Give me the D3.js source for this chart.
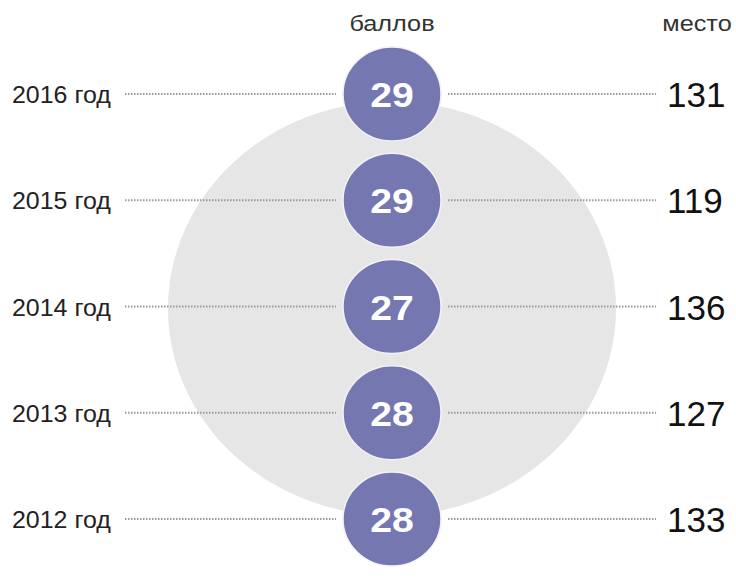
<!DOCTYPE html>
<html>
<head>
<meta charset="utf-8">
<script src="https://cdn.jsdelivr.net/npm/d3@7"></script>
<style>
  body { margin: 0; background: #fff; }
  svg text { font-family: "Liberation Sans", Arial, sans-serif; }
</style>
</head>
<body>
<div id="chart"></div>
<script>
// data (top row first)
var years = ["2016 год", "2015 год", "2014 год", "2013 год", "2012 год"];
var scores = [29, 29, 27, 28, 28];
var ranks = [131, 119, 136, 127, 133];

var width = 736, height = 580;

var svg = d3.select("#chart")
  .append("svg")
    .attr("width", width)
    .attr("height", height);

// rows
var y = d3.scalePoint()
  .domain(years)
  .range([94, 519]);

var cx = 392;
var mid = (y(years[0]) + y(years[years.length - 1])) / 2;

function place(x, yy, sx) {
  return "translate(" + x + "," + yy + ") scale(" + sx + ",1)";
}

// big grey backdrop
svg.append("ellipse")
  .attr("cx", cx)
  .attr("cy", mid + 2)
  .attr("rx", 224)
  .attr("ry", 207)
  .attr("fill", "#e6e6e6");

// headers
svg.append("text")
  .attr("transform", place(cx, 31, 1.15))
  .attr("text-anchor", "middle")
  .attr("font-size", 22)
  .attr("fill", "#333")
  .text("баллов");

svg.append("text")
  .attr("transform", place(697, 31, 1.15))
  .attr("text-anchor", "middle")
  .attr("font-size", 22)
  .attr("fill", "#333")
  .text("место");

var rows = svg.selectAll(".row")
  .data(years)
  .enter()
  .append("g")
    .attr("class", "row")
    .attr("transform", function(d) { return "translate(0," + y(d) + ")"; });

// dotted leader lines
rows.append("line")
  .attr("x1", 125).attr("x2", 336)
  .attr("stroke", "#999")
  .attr("stroke-width", 2)
  .attr("stroke-dasharray", "1.5,1.5");

rows.append("line")
  .attr("x1", 448).attr("x2", 656)
  .attr("stroke", "#999")
  .attr("stroke-width", 2)
  .attr("stroke-dasharray", "1.5,1.5");

// year labels
rows.append("text")
  .attr("transform", place(12, 9, 1.04))
  .attr("font-size", 24)
  .attr("fill", "#222")
  .text(function(d) { return d; });

// score circles
rows.append("ellipse")
  .attr("cx", cx)
  .attr("rx", 49)
  .attr("ry", 47)
  .attr("fill", "#7577b0")
  .attr("stroke", "#f2f2f7")
  .attr("stroke-width", 1.5);

rows.append("text")
  .attr("transform", place(cx, 13, 1.12))
  .attr("text-anchor", "middle")
  .attr("font-size", 35)
  .attr("font-weight", "bold")
  .attr("fill", "#fff")
  .text(function(d, i) { return scores[i]; });

// ranks
rows.append("text")
  .attr("transform", "translate(667,13)")
  .attr("font-size", 35)
  .attr("fill", "#111")
  .text(function(d, i) { return ranks[i]; });
</script>
</body>
</html>
